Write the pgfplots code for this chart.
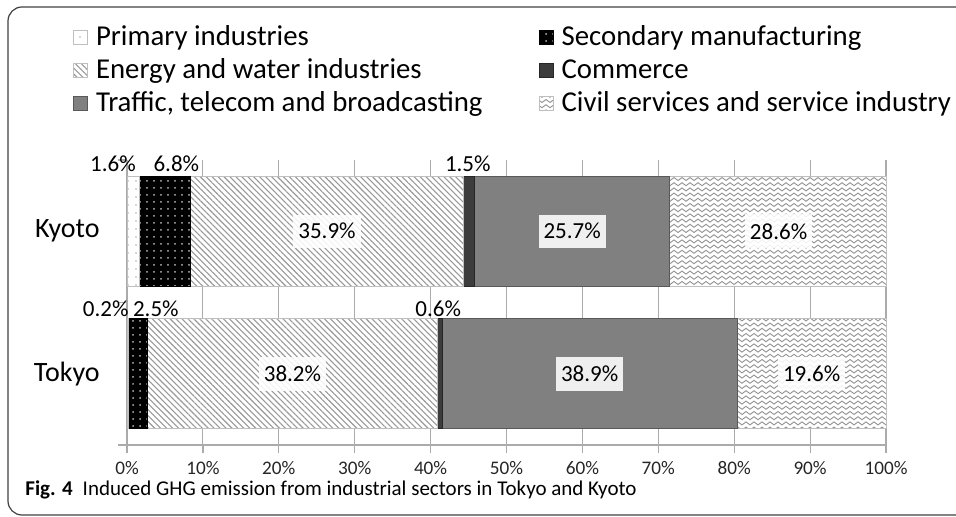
\documentclass[border=0pt]{standalone}
\usepackage{pgfplots}
\pgfplotsset{compat=1.18}
\usepackage{fontspec}
\setmainfont{Carlito}
\usetikzlibrary{patterns,patterns.meta}

\tikzdeclarepattern{
  name=mywaves,
  type=uncolored,
  bottom left={(-0.2bp,-1.3bp)},
  top right={(4.2bp,1.3bp)},
  tile size={(4bp,2.6bp)},
  code={
    \draw[line width=0.45bp] (0,0) .. controls (0.7bp,1bp) and (1.3bp,1bp) .. (2bp,0) .. controls (2.7bp,-1bp) and (3.3bp,-1bp) .. (4bp,0);
  }
}

\definecolor{gridc}{HTML}{ABABAB}
\definecolor{commc}{HTML}{3C3C3C}
\definecolor{trafc}{HTML}{808080}

\pgfplotsset{
  legbox/.style={legend image code/.code={\draw[##1] (0bp,-3.5bp) rectangle (7bp,3.5bp);}},
}

\begin{document}
\begin{tikzpicture}
\path[use as bounding box] (-63.5bp,-36bp) rectangle (414.5bp,222.5bp);
\draw[line width=0.6bp, black!75, rounded corners=7bp] (420bp,219bp) -- (-59.5bp,219bp) -- (-59.5bp,-35bp) -- (420bp,-35bp);
\begin{axis}[
  at={(0,0)}, anchor=south west,
  scale only axis,
  width=379.5bp, height=142.5bp,
  xbar stacked,
  bar width=0.772,
  xmin=0, xmax=100, ymin=-0.5, ymax=1.5,
  enlargelimits=false,
  clip=false,
  axis x line*=bottom, axis y line*=left,
  axis line style={gridc, line width=0.6bp},
  xtick={0,10,...,100},
  xticklabels={0\%,10\%,20\%,30\%,40\%,50\%,60\%,70\%,80\%,90\%,100\%},
  xticklabel style={font=\fontsize{9.6bp}{11bp}\selectfont, text=black!85, anchor=center, yshift=-7.5bp},
  ytick={0,1},
  yticklabels={Tokyo,Kyoto},
  yticklabel style={font=\fontsize{14bp}{16bp}\selectfont, anchor=east, inner sep=0pt, xshift=-9.5bp},
  major y tick style={draw=none},
  minor ytick={-0.5,0.5,1.5},
  minor y tick style={gridc, line width=0.6bp},
  minor tick length=4.5bp,
  major tick length=4bp,
  x tick style={gridc, line width=0.6bp},
  tick align=outside,
  xmajorgrids,
  grid style={gridc, line width=0.55bp},
  legend columns=2,
  legend cell align=left,
  legend style={draw=none, fill=none, at={(axis description cs:-0.0711,1.486)}, anchor=north west,
    inner sep=0pt, font=\fontsize{14.4bp}{17bp}\selectfont, row sep=1bp,
    /tikz/every odd column/.append style={column sep=2bp}},
]
\addplot[legbox, fill=white, draw=gray!50, line width=0.3bp, postaction={pattern={Dots[radius=0.45bp,distance=4bp]}, pattern color=gray!60}]
  coordinates {(0.2,0) (1.6,1)};
\addlegendentry{\makebox[219.5bp][l]{Primary industries}}
\addplot[legbox, fill=black, draw=black, line width=0.3bp, postaction={pattern={Dots[radius=0.5bp,distance=3.5bp]}, pattern color=gray!55}]
  coordinates {(2.5,0) (6.8,1)};
\addlegendentry{Secondary manufacturing}
\addplot[legbox, fill=white, draw=gray!50, line width=0.3bp, postaction={pattern={Lines[angle=-45,distance=2.1bp,line width=0.55bp]}, pattern color=gray!80}]
  coordinates {(38.2,0) (35.9,1)};
\addlegendentry{\makebox[219.5bp][l]{Energy and water industries}}
\addplot[legbox, fill=commc, draw=black!85, line width=0.3bp]
  coordinates {(0.6,0) (1.5,1)};
\addlegendentry{Commerce}
\addplot[legbox, fill=trafc, draw=gray!70!black, line width=0.3bp]
  coordinates {(38.9,0) (25.7,1)};
\addlegendentry{\makebox[219.5bp][l]{Traffic, telecom and broadcasting}}
\addplot[legbox, fill=white, draw=gray!50, line width=0.3bp, postaction={pattern=mywaves, pattern color=gray!85}]
  coordinates {(19.6,0) (28.6,1)};
\addlegendentry{Civil services and service industry}

% label anchor points
\coordinate (L1) at (axis cs:26.35,1);
\coordinate (L2) at (axis cs:58.65,1);
\coordinate (L3) at (axis cs:85.85,1);
\coordinate (L4) at (axis cs:21.8,0);
\coordinate (L5) at (axis cs:60.95,0);
\coordinate (L6) at (axis cs:90.2,0);
\coordinate (S1) at (axis cs:-1.85,1.472);
\coordinate (S2) at (axis cs:6.5,1.472);
\coordinate (S3) at (axis cs:44.9,1.472);
\coordinate (S4) at (axis cs:-2.8,0.454);
\coordinate (S5) at (axis cs:3.8,0.454);
\coordinate (S6) at (axis cs:41.0,0.454);
\end{axis}
\tikzset{
  lbl/.style={fill=white, fill opacity=0.88, text opacity=1, inner xsep=2.5bp, inner ysep=4.4bp, font=\fontsize{11.5bp}{13bp}\selectfont},
  sml/.style={inner sep=0pt, font=\fontsize{11.5bp}{13bp}\selectfont},
}
\node[lbl] at (L1) {35.9\%};
\node[lbl] at (L2) {25.7\%};
\node[lbl] at (L3) {28.6\%};
\node[lbl] at (L4) {38.2\%};
\node[lbl] at (L5) {38.9\%};
\node[lbl] at (L6) {19.6\%};
\node[sml] at (S1) {1.6\%};
\node[sml] at (S2) {6.8\%};
\node[sml] at (S3) {1.5\%};
\node[sml] at (S4) {0.2\%};
\node[sml] at (S5) {2.5\%};
\node[sml] at (S6) {0.6\%};
\node[anchor=base west, inner sep=0pt, font=\fontsize{10.5bp}{12bp}\selectfont] at (-51bp,-25bp) {\textbf{Fig. 4}\hspace{5bp}Induced GHG emission from industrial sectors in Tokyo and Kyoto};
\end{tikzpicture}
\end{document}
